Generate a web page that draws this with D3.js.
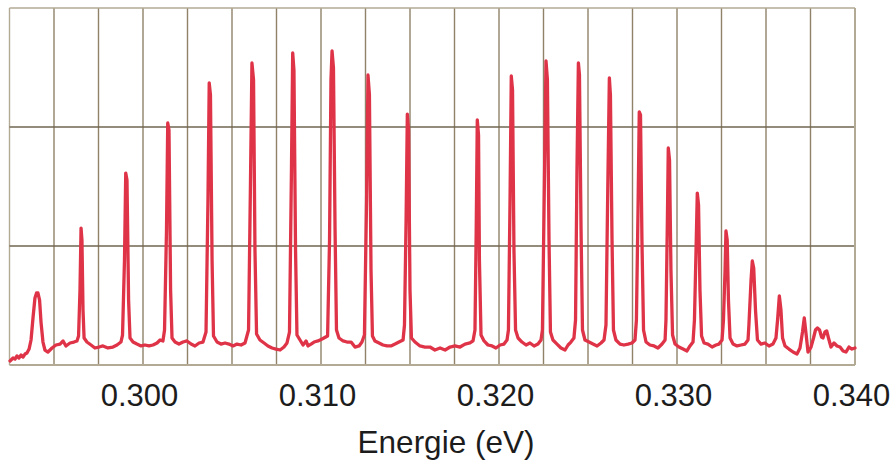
<!DOCTYPE html>
<html>
<head>
<meta charset="utf-8">
<script src="https://cdn.jsdelivr.net/npm/d3@7"></script>
<style>
  html, body { margin: 0; padding: 0; background: #fff; }
  svg { display: block; }
</style>
</head>
<body>
<svg id="chart"></svg>
<script>
// energy axis ticks (eV)
const tickValues = [0.300, 0.310, 0.320, 0.330, 0.340];
const tickLabels = ['0.300', '0.310', '0.320', '0.330', '0.340'];
const xTitle = 'Energie (eV)';

// grid: vertical every 0.0025 eV, horizontal every 1 a.u.
const gridEnergies = d3.range(0, 20).map(k => +(0.2925 + k * 0.0025).toFixed(4));
const gridIntensities = [0, 1, 2, 3];

// spectrum (energy in eV, intensity in arb. units)
const energy = [
  0.29253, 0.29270, 0.29281, 0.29292, 0.29303, 0.29315, 0.29326, 0.29337, 0.29348, 0.29360,
  0.29371, 0.29382, 0.29393, 0.29402, 0.29410, 0.29419, 0.29427, 0.29438, 0.29449, 0.29466,
  0.29489, 0.29511, 0.29534, 0.29551, 0.29567, 0.29590, 0.29612, 0.29629,
  0.29638, 0.29646, 0.29652, 0.29657, 0.29663, 0.29669, 0.29685, 0.29708, 0.29730,
  0.29753, 0.29775, 0.29803, 0.29831, 0.29854, 0.29876,
  0.29885, 0.29896, 0.29903, 0.29910, 0.29919, 0.29927, 0.29944, 0.29966, 0.29989,
  0.30011, 0.30034, 0.30056, 0.30079, 0.30096, 0.30112,
  0.30121, 0.30132, 0.30139, 0.30146, 0.30155, 0.30163, 0.30180, 0.30202, 0.30225,
  0.30247, 0.30270, 0.30292, 0.30315, 0.30337,
  0.30354, 0.30365, 0.30372, 0.30379, 0.30388, 0.30396, 0.30416, 0.30438, 0.30461,
  0.30483, 0.30506, 0.30528, 0.30551, 0.30573,
  0.30593, 0.30604, 0.30612, 0.30621, 0.30629, 0.30638, 0.30657, 0.30680, 0.30702,
  0.30725, 0.30747, 0.30770, 0.30792, 0.30809,
  0.30823, 0.30834, 0.30841, 0.30848, 0.30857, 0.30865, 0.30882, 0.30899, 0.30916,
  0.30927, 0.30944, 0.30961, 0.30983, 0.31006,
  0.31037, 0.31048, 0.31056, 0.31062, 0.31070, 0.31079, 0.31087, 0.31101, 0.31124,
  0.31146, 0.31169, 0.31191, 0.31214, 0.31230,
  0.31244, 0.31256, 0.31264, 0.31272, 0.31281, 0.31289, 0.31303, 0.31326, 0.31348,
  0.31371, 0.31393, 0.31416, 0.31438, 0.31461,
  0.31469, 0.31478, 0.31485, 0.31492, 0.31500, 0.31508, 0.31528, 0.31556, 0.31584,
  0.31612, 0.31640, 0.31669, 0.31697, 0.31725, 0.31753, 0.31781, 0.31809, 0.31837, 0.31854,
  0.31865, 0.31872, 0.31878, 0.31885, 0.31890, 0.31899, 0.31916, 0.31938, 0.31961,
  0.31983, 0.32006, 0.32028, 0.32045,
  0.32053, 0.32062, 0.32069, 0.32076, 0.32084, 0.32093, 0.32107, 0.32129, 0.32152,
  0.32174, 0.32197, 0.32219, 0.32236,
  0.32244, 0.32256, 0.32264, 0.32272, 0.32281, 0.32289, 0.32303, 0.32326, 0.32348,
  0.32371, 0.32388, 0.32404, 0.32421,
  0.32430, 0.32438, 0.32446, 0.32452, 0.32461, 0.32469, 0.32483, 0.32506, 0.32528,
  0.32551, 0.32573, 0.32590,
  0.32601, 0.32611, 0.32620, 0.32626, 0.32635, 0.32643, 0.32657, 0.32680, 0.32702,
  0.32725, 0.32747, 0.32764,
  0.32772, 0.32781, 0.32788, 0.32795, 0.32803, 0.32812, 0.32826, 0.32848, 0.32871,
  0.32893, 0.32916, 0.32933,
  0.32938, 0.32946, 0.32951, 0.32958, 0.32966, 0.32975, 0.32989, 0.33011, 0.33034,
  0.33056, 0.33073, 0.33090,
  0.33098, 0.33107, 0.33114, 0.33121, 0.33129, 0.33138, 0.33152, 0.33174, 0.33197,
  0.33219, 0.33236, 0.33253,
  0.33261, 0.33270, 0.33275, 0.33282, 0.33289, 0.33298, 0.33315, 0.33337, 0.33360,
  0.33382, 0.33399,
  0.33404, 0.33416, 0.33423, 0.33431, 0.33441, 0.33452, 0.33472, 0.33494, 0.33517,
  0.33539, 0.33556,
  0.33565, 0.33575, 0.33584, 0.33593, 0.33607, 0.33629, 0.33652, 0.33674, 0.33691,
  0.33705, 0.33715, 0.33725, 0.33736, 0.33753,
  0.33767, 0.33778, 0.33789, 0.33801, 0.33812, 0.33820, 0.33831, 0.33841, 0.33851,
  0.33865, 0.33882, 0.33899, 0.33916, 0.33933, 0.33949, 0.33966, 0.33983, 0.34000
];
const intensity = [
  0.034, 0.059, 0.050, 0.076, 0.059, 0.084, 0.067, 0.092, 0.101, 0.134,
  0.210, 0.395, 0.563, 0.605, 0.605, 0.546, 0.361, 0.193, 0.126, 0.109,
  0.143, 0.168, 0.176, 0.202, 0.160, 0.185, 0.193, 0.202,
  0.244, 0.630, 1.151, 1.050, 0.462, 0.227, 0.193, 0.168, 0.143,
  0.151, 0.160, 0.143, 0.151, 0.168, 0.193,
  0.252, 0.882, 1.613, 1.555, 0.546, 0.227, 0.193, 0.176, 0.160,
  0.168, 0.160, 0.168, 0.185, 0.210, 0.202,
  0.294, 1.134, 2.034, 1.975, 0.630, 0.227, 0.193, 0.176, 0.193,
  0.202, 0.176, 0.160, 0.185, 0.193,
  0.277, 1.387, 2.370, 2.269, 0.882, 0.244, 0.193, 0.176, 0.185,
  0.176, 0.160, 0.176, 0.168, 0.185,
  0.294, 1.555, 2.538, 2.395, 0.966, 0.261, 0.210, 0.185, 0.160,
  0.143, 0.134, 0.126, 0.151, 0.185,
  0.277, 1.639, 2.622, 2.479, 0.966, 0.252, 0.210, 0.168, 0.202,
  0.160, 0.176, 0.193, 0.202, 0.218,
  0.244, 1.050, 2.395, 2.639, 2.496, 1.134, 0.294, 0.227, 0.202,
  0.193, 0.193, 0.151, 0.160, 0.193,
  0.252, 1.387, 2.437, 2.269, 0.798, 0.244, 0.202, 0.185, 0.168,
  0.160, 0.160, 0.176, 0.193, 0.210,
  0.336, 1.218, 2.109, 1.975, 0.630, 0.227, 0.193, 0.160, 0.151,
  0.151, 0.126, 0.143, 0.126, 0.151, 0.160, 0.151, 0.176, 0.185, 0.202,
  0.294, 1.134, 2.059, 1.933, 0.882, 0.252, 0.202, 0.168, 0.160,
  0.143, 0.168, 0.176, 0.210,
  0.294, 1.387, 2.429, 2.311, 0.966, 0.294, 0.227, 0.193, 0.168,
  0.185, 0.160, 0.176, 0.210,
  0.294, 1.639, 2.555, 2.395, 1.050, 0.277, 0.210, 0.176, 0.143,
  0.126, 0.168, 0.193, 0.227,
  0.378, 1.639, 2.538, 2.437, 1.134, 0.294, 0.210, 0.193, 0.176,
  0.160, 0.185, 0.210,
  0.336, 1.471, 2.412, 2.269, 1.050, 0.294, 0.210, 0.176, 0.168,
  0.176, 0.185, 0.210,
  0.378, 1.303, 2.126, 2.101, 1.050, 0.294, 0.193, 0.168, 0.160,
  0.143, 0.176, 0.210,
  0.378, 1.218, 1.824, 1.723, 0.798, 0.252, 0.176, 0.151, 0.134,
  0.118, 0.160, 0.193,
  0.378, 0.966, 1.445, 1.345, 0.630, 0.244, 0.185, 0.176, 0.151,
  0.168, 0.176, 0.210,
  0.378, 0.798, 1.126, 1.050, 0.546, 0.227, 0.176, 0.160, 0.168,
  0.176, 0.210,
  0.336, 0.714, 0.874, 0.815, 0.462, 0.210, 0.176, 0.185, 0.160,
  0.176, 0.227,
  0.378, 0.580, 0.462, 0.227, 0.160, 0.134, 0.109, 0.092, 0.143,
  0.277, 0.395, 0.261, 0.109, 0.151,
  0.227, 0.294, 0.311, 0.294, 0.235, 0.227, 0.277, 0.286, 0.227,
  0.151, 0.185, 0.160, 0.151, 0.118, 0.109, 0.151, 0.134, 0.143
];

const width = 896;
const height = 468;
const margin = { top: 8, right: 41, bottom: 103, left: 9.5 };

const svg = d3.select('#chart')
  .attr('width', width)
  .attr('height', height);

const x = d3.scaleLinear()
  .domain([0.2925, 0.340])
  .range([margin.left, width - margin.right]);

const y = d3.scaleLinear()
  .domain([0, 3])
  .range([height - margin.bottom, margin.top]);

// grid
svg.append('g')
  .selectAll('line')
  .data(gridEnergies)
  .enter().append('line')
  .attr('x1', d => x(d)).attr('x2', d => x(d))
  .attr('y1', y(0)).attr('y2', y(3))
  .attr('stroke', (d, i) => i === 0 ? '#b3aa96' : '#8f8269')
  .attr('stroke-width', 1.4);

svg.append('g')
  .selectAll('line')
  .data(gridIntensities)
  .enter().append('line')
  .attr('x1', x(0.2925)).attr('x2', x(0.340))
  .attr('y1', d => y(d)).attr('y2', d => y(d))
  .attr('stroke', d => (d === 0 || d === 3) ? '#b3aa96' : '#6f6450')
  .attr('stroke-width', d => (d === 0) ? 2 : 1.4);

// right border
svg.append('line')
  .attr('x1', x(0.340)).attr('x2', x(0.340))
  .attr('y1', y(0)).attr('y2', y(3))
  .attr('stroke', '#b3aa96')
  .attr('stroke-width', 2);

// spectrum
const points = energy.map((e, i) => [e, intensity[i]]);
const line = d3.line()
  .x(d => x(d[0]))
  .y(d => y(d[1]));

svg.append('path')
  .datum(points)
  .attr('d', line)
  .attr('fill', 'none')
  .attr('stroke', '#df3347')
  .attr('stroke-width', 3.3)
  .attr('stroke-linejoin', 'round')
  .attr('stroke-linecap', 'round');

// x axis labels
const xAxis = d3.axisBottom(x)
  .tickValues(tickValues)
  .tickFormat((d, i) => tickLabels[i])
  .tickSize(0)
  .tickPadding(0);

const gx = svg.append('g')
  .attr('transform', `translate(0,${y(0)})`)
  .call(xAxis);
gx.select('.domain').remove();
gx.selectAll('text')
  .attr('dy', 0)
  .attr('y', 41)
  .attr('dx', -4)
  .attr('fill', '#1c1c1c')
  .style('font-family', '"Liberation Sans", Arial, sans-serif')
  .style('font-size', '31px');

svg.append('text')
  .attr('x', 446)
  .attr('y', 453)
  .attr('text-anchor', 'middle')
  .attr('fill', '#1c1c1c')
  .style('font-family', '"Liberation Sans", Arial, sans-serif')
  .style('font-size', '31.5px')
  .text(xTitle);
</script>
</body>
</html>
